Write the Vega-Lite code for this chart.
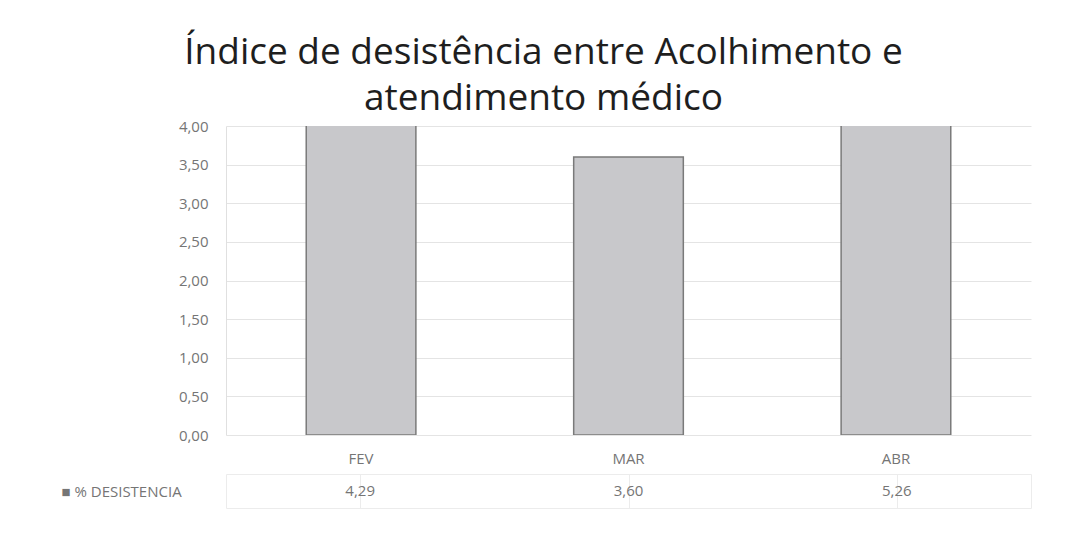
{
  "$schema": "https://vega.github.io/schema/vega-lite/v6.json",
  "padding": {"left": 55, "right": 49, "top": 34, "bottom": 0},
  "background": "white",
  "config": {
    "font": "Open Sans",
    "locale": {"number": {"decimal": ",", "thousands": ".", "grouping": [3], "currency": ["R$", ""]}},
    "view": {"stroke": null},
    "concat": {"spacing": 0}
  },
  "title": {
    "text": ["Índice de desistência entre Acolhimento e", "atendimento médico"],
    "fontSize": 37,
    "font": "Open Sans",
    "fontWeight": "normal",
    "lineHeight": 46,
    "anchor": "middle",
    "color": "#1e1e1e",
    "offset": 1
  },
  "data": {
    "values": [
      {"mes": "FEV", "serie": "% DESISTENCIA", "valor": 4.29},
      {"mes": "MAR", "serie": "% DESISTENCIA", "valor": 3.60},
      {"mes": "ABR", "serie": "% DESISTENCIA", "valor": 5.26}
    ]
  },
  "vconcat": [
    {
      "width": 805,
      "height": 309,
      "mark": {"type": "bar", "clip": true, "fill": "#c8c8cb", "stroke": "#7a7a7a", "strokeWidth": 1.5},
      "encoding": {
        "x": {
          "field": "mes", "type": "nominal", "sort": ["FEV", "MAR", "ABR"],
          "scale": {"paddingInner": 0.59, "paddingOuter": 0.3},
          "axis": {
            "title": null, "labelAngle": 0, "labelFontSize": 15, "labelColor": "#757575",
            "domain": false, "ticks": false, "labelPadding": 16, "minExtent": 38, "maxExtent": 38
          }
        },
        "y": {
          "field": "valor", "type": "quantitative",
          "scale": {"domain": [0, 4], "nice": false},
          "axis": {
            "title": null, "values": [0, 0.5, 1, 1.5, 2, 2.5, 3, 3.5, 4], "format": ".2f",
            "labelFontSize": 15, "labelColor": "#757575", "labelPadding": 18,
            "domain": true, "domainColor": "#e0e0e0", "ticks": false,
            "grid": true, "gridColor": "#e4e4e4", "minExtent": 170, "maxExtent": 170
          }
        }
      }
    },
    {
      "width": 805,
      "height": 34,
      "view": {"stroke": "#ececec"},
      "mark": {"type": "text", "fontSize": 15, "color": "#757575", "font": "Open Sans"},
      "encoding": {
        "x": {
          "field": "mes", "type": "nominal", "sort": ["FEV", "MAR", "ABR"],
          "scale": {"paddingInner": 0, "paddingOuter": 0},
          "axis": {"title": null, "labels": false, "ticks": false, "domain": false, "grid": true, "gridColor": "#ececec", "bandPosition": 0}
        },
        "y": {
          "field": "serie", "type": "nominal",
          "axis": {
            "title": null, "labelAlign": "left", "labelPadding": 165, "labelFontSize": 15,
            "labelColor": "#757575", "ticks": false, "domain": false,
            "labelExpr": "'■ ' + datum.label", "minExtent": 170, "maxExtent": 170
          }
        },
        "text": {"field": "valor", "type": "quantitative", "format": ".2f"}
      }
    }
  ]
}
